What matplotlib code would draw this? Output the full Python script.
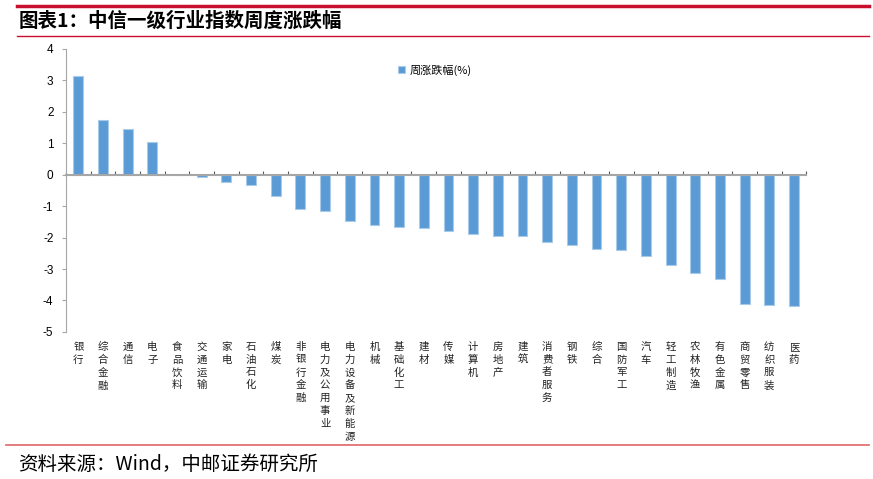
import matplotlib
matplotlib.use("Agg")
import matplotlib.pyplot as plt
import matplotlib.transforms as mtransforms

plt.rcParams['font.family'] = ['Noto Sans CJK SC', 'DejaVu Sans']

# 行业与周涨跌幅(%)
industries = ["银行", "综合金融", "通信", "电子", "食品饮料", "交通运输", "家电", "石油石化",
              "煤炭", "非银行金融", "电力及公用事业", "电力设备及新能源", "机械", "基础化工",
              "建材", "传媒", "计算机", "房地产", "建筑", "消费者服务", "钢铁", "综合",
              "国防军工", "汽车", "轻工制造", "农林牧渔", "有色金属", "商贸零售", "纺织服装", "医药"]
changes = [3.13, 1.74, 1.44, 1.05, -0.02, -0.06, -0.24, -0.32,
           -0.67, -1.10, -1.16, -1.48, -1.61, -1.66,
           -1.70, -1.79, -1.89, -1.94, -1.96, -2.15, -2.23, -2.35,
           -2.41, -2.59, -2.86, -3.13, -3.32, -4.11, -4.14, -4.19]
yticks = [4, 3, 2, 1, 0, -1, -2, -3, -4, -5]
legend_label = "周涨跌幅(%)"
title = "图表1：中信一级行业指数周度涨跌幅"
source = "资料来源：Wind，中邮证券研究所"

red = "#C8102E"
blue = "#5B9BD5"
grey = "#A6A6A6"

fig = plt.figure(figsize=(8.73, 4.79), dpi=100)
ax = fig.add_axes([0.0756, 0.307, 0.848, 0.591])

x = list(range(len(industries)))
ax.bar(x, changes, width=0.4, color=blue, edgecolor="#A9CBEA", linewidth=0.8,
       label=legend_label, zorder=2)

ax.set_xlim(-0.5, len(industries) - 0.5)
ax.set_ylim(-5, 4)
ax.set_yticks(yticks)
ax.set_yticklabels([str(v) for v in yticks], family="Liberation Sans", fontsize=8.5)
ax.tick_params(axis="y", direction="out", length=3, color=grey, pad=6)

ax.spines["top"].set_visible(False)
ax.spines["right"].set_visible(False)
ax.spines["left"].set_color(grey)
ax.spines["bottom"].set_color(grey)
ax.spines["bottom"].set_linewidth(1.5)
ax.spines["bottom"].set_position(("data", 0))
ax.spines["bottom"].set_zorder(3)

ax.set_xticks([i - 0.5 for i in range(len(industries) + 1)])
ax.tick_params(axis="x", direction="in", length=3, color="#595959", labelbottom=False)

trans = mtransforms.blended_transform_factory(ax.transData, ax.transAxes)
for i, name in enumerate(industries):
    ax.text(i, -0.035, "\n".join(name), transform=trans, ha="center", va="top",
            fontsize=7.5, linespacing=1.35, color="#222222")

ax.legend(loc="upper left", bbox_to_anchor=(0.435, 0.98), frameon=False, fontsize=8,
          handlelength=0.6, handleheight=0.6, handletextpad=0.4)

# 标题与红线
fig.add_artist(plt.Line2D([0.02, 0.995], [0.988, 0.988], color=red, linewidth=2.5))
fig.text(0.021, 0.955, title, fontsize=14, fontweight="bold", va="center", ha="left")
fig.add_artist(plt.Line2D([0.02, 0.995], [0.924, 0.924], color=red, linewidth=1.0))
fig.add_artist(plt.Line2D([0.007, 0.995], [0.072, 0.072], color="#E06666", linewidth=1.2))
fig.text(0.021, 0.03, source, fontsize=14, va="center", ha="left")

fig.savefig("out.png", dpi=100)
